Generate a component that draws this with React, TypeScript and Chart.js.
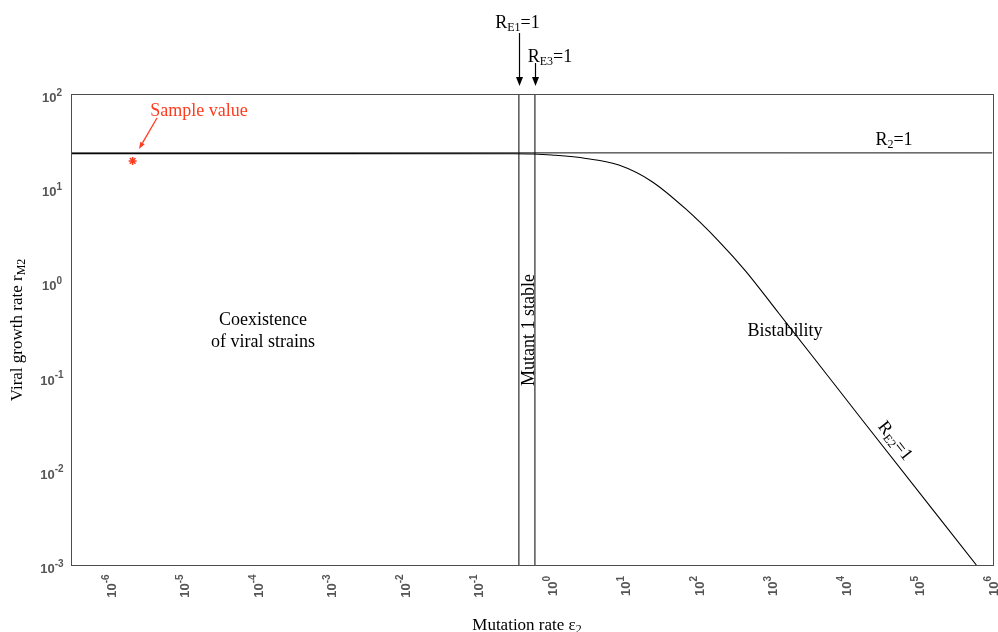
import React, { useEffect, useRef } from "react";
import { Chart, registerables } from "chart.js";
Chart.register(...registerables);

// ---- data ----
const curveX = [2.9e-7, 1e-3, 0.3, 0.575, 1.01, 2.93, 8.24, 23.1, 67.0, 188, 438, 1230, 3450, 16500, 603000];
const curveY = [23.3, 23.3, 23.25, 23.1, 22.5, 20.7, 17.6, 11.8, 6.02, 2.75, 1.32, 0.473, 0.1696, 0.0355, 0.001];
const r2Value = 23.7;
const re1X = 0.36;
const re3X = 0.595;
const sampleX = 2.0e-6;
const sampleY = 19.5;
const xMin = 2.9e-7;
const xMax = 1e6;
const yMin = 1e-3;
const yMax = 100;
const xTickExps = [-6, -5, -4, -3, -2, -1, 0, 1, 2, 3, 4, 5, 6];
const yTickExps = [-3, -2, -1, 0, 1, 2];

const SERIF = "'Liberation Serif', 'Times New Roman', serif";
const SANS = "'Liberation Sans', Arial, sans-serif";
const RED = "#ff3b1f";

type Part = { t: string; sub?: boolean };

function partsWidth(ctx: CanvasRenderingContext2D, parts: Part[], size: number, subSize: number) {
  let w = 0;
  for (const p of parts) {
    ctx.font = `${p.sub ? subSize : size}px ${SERIF}`;
    w += ctx.measureText(p.t).width;
  }
  return w;
}

function drawParts(ctx: CanvasRenderingContext2D, parts: Part[], x: number, y: number, size: number, subSize: number, color: string, subDrop = 3) {
  const total = partsWidth(ctx, parts, size, subSize);
  let cx = x - total / 2;
  ctx.fillStyle = color;
  ctx.textAlign = "left";
  ctx.textBaseline = "alphabetic";
  for (const p of parts) {
    ctx.font = `${p.sub ? subSize : size}px ${SERIF}`;
    ctx.fillText(p.t, cx, y + (p.sub ? subDrop : 0));
    cx += ctx.measureText(p.t).width;
  }
}

function arrow(ctx: CanvasRenderingContext2D, x1: number, y1: number, x2: number, y2: number, color: string, hl: number, hw: number, lw = 1.2) {
  const a = Math.atan2(y2 - y1, x2 - x1);
  const bx = x2 - hl * Math.cos(a);
  const by = y2 - hl * Math.sin(a);
  ctx.strokeStyle = color;
  ctx.fillStyle = color;
  ctx.lineWidth = lw;
  ctx.beginPath();
  ctx.moveTo(x1, y1);
  ctx.lineTo(bx, by);
  ctx.stroke();
  ctx.beginPath();
  ctx.moveTo(x2, y2);
  ctx.lineTo(bx + (hw / 2) * Math.sin(a), by - (hw / 2) * Math.cos(a));
  ctx.lineTo(bx - (hw / 2) * Math.sin(a), by + (hw / 2) * Math.cos(a));
  ctx.closePath();
  ctx.fill();
}

function powLabel(ctx: CanvasRenderingContext2D, exp: number) {
  const es = exp < 0 ? "-" + Math.abs(exp) : String(exp);
  ctx.font = `bold 13px ${SANS}`;
  const w10 = ctx.measureText("10").width;
  ctx.font = `bold 10px ${SANS}`;
  const we = ctx.measureText(es).width;
  return { es, w10, we, total: w10 + we };
}

const decor = {
  id: "decor",
  afterDraw(chart: any) {
    const ctx: CanvasRenderingContext2D = chart.ctx;
    const { left, right, top, bottom } = chart.chartArea;
    const xs = chart.scales.x;
    const ys = chart.scales.y;
    ctx.save();
    // frame
    ctx.strokeStyle = "#4d4d4d";
    ctx.lineWidth = 1;
    ctx.strokeRect(Math.round(left) + 0.5, Math.round(top) + 0.5, Math.round(right - left), Math.round(bottom - top));

    // tick labels
    ctx.fillStyle = "#555";
    ctx.textAlign = "left";
    ctx.textBaseline = "alphabetic";
    for (const e of yTickExps) {
      const py = ys.getPixelForValue(Math.pow(10, e));
      const L = powLabel(ctx, e);
      const sx = 52 - L.total / 2;
      ctx.font = `bold 13px ${SANS}`;
      ctx.fillText("10", sx, py + 8);
      ctx.font = `bold 10px ${SANS}`;
      ctx.fillText(L.es, sx + L.w10, py + 1.5);
    }
    for (const e of xTickExps) {
      const px = xs.getPixelForValue(Math.pow(10, e));
      const L = powLabel(ctx, e);
      ctx.save();
      ctx.translate(px, 586);
      ctx.rotate(-Math.PI / 2);
      const sx = -L.total / 2;
      ctx.font = `bold 13px ${SANS}`;
      ctx.fillText("10", sx, 5.1);
      ctx.font = `bold 10px ${SANS}`;
      ctx.fillText(L.es, sx + L.w10, -1.4);
      ctx.restore();
    }

    // axis titles
    drawParts(ctx, [{ t: "Mutation rate \u03b5" }, { t: "2", sub: true }], 527, 630, 17, 12, "#000", 3);
    ctx.save();
    ctx.translate(22, 330);
    ctx.rotate(-Math.PI / 2);
    drawParts(ctx, [{ t: "Viral growth rate r" }, { t: "M2", sub: true }], 0, 0, 17, 12, "#000", 3);
    ctx.restore();

    // region labels
    drawParts(ctx, [{ t: "Coexistence" }], 263, 325, 18, 12, "#000");
    drawParts(ctx, [{ t: "of viral strains" }], 263, 347, 18, 12, "#000");
    drawParts(ctx, [{ t: "Bistability" }], 785, 336, 18, 12, "#000");
    ctx.save();
    ctx.translate(534, 330);
    ctx.rotate(-Math.PI / 2);
    drawParts(ctx, [{ t: "Mutant 1 stable" }], 0, 0, 18, 12, "#000");
    ctx.restore();

    // curve labels
    drawParts(ctx, [{ t: "R" }, { t: "2", sub: true }, { t: "=1" }], 894, 145, 18, 12, "#000");
    ctx.save();
    ctx.translate(895, 441);
    ctx.rotate((51.8 * Math.PI) / 180);
    drawParts(ctx, [{ t: "R" }, { t: "E2", sub: true }, { t: "=1" }], 0, 5, 18, 12, "#000");
    ctx.restore();

    // top arrows
    const x1 = xs.getPixelForValue(re1X);
    const x3 = xs.getPixelForValue(re3X);
    drawParts(ctx, [{ t: "R" }, { t: "E1", sub: true }, { t: "=1" }], 517.5, 28, 18, 12, "#000");
    drawParts(ctx, [{ t: "R" }, { t: "E3", sub: true }, { t: "=1" }], 550, 62, 18, 12, "#000");
    arrow(ctx, Math.round(x1) + 0.5, 33, Math.round(x1) + 0.5, 86, "#000", 9, 7, 1.2);
    arrow(ctx, Math.round(x3) + 0.5, 63, Math.round(x3) + 0.5, 86, "#000", 9, 7, 1.2);

    // sample annotation
    drawParts(ctx, [{ t: "Sample value" }], 199, 116, 18, 12, RED);
    arrow(ctx, 157, 118, 139, 149, RED, 7, 5, 1.3);
    ctx.restore();
  },
};

export default function App() {
  const ref = useRef<HTMLCanvasElement | null>(null);
  useEffect(() => {
    if (!ref.current) return;
    const chart = new Chart(ref.current, {
      type: "line",
      data: {
        datasets: [
          {
            label: "R2=1",
            data: [
              { x: xMin, y: r2Value },
              { x: xMax, y: r2Value },
            ],
            borderColor: "#111",
            borderWidth: 1,
            pointRadius: 0,
          },
          {
            label: "RE2=1",
            data: curveX.map((x, i) => ({ x, y: curveY[i] })),
            borderColor: "#000",
            borderWidth: 1.1,
            pointRadius: 0,
            cubicInterpolationMode: "monotone",
          },
          {
            label: "RE1=1",
            data: [
              { x: re1X, y: yMin },
              { x: re1X, y: yMax },
            ],
            borderColor: "#000",
            borderWidth: 1,
            pointRadius: 0,
          },
          {
            label: "RE3=1",
            data: [
              { x: re3X, y: yMin },
              { x: re3X, y: yMax },
            ],
            borderColor: "#000",
            borderWidth: 1,
            pointRadius: 0,
          },
          {
            label: "Sample",
            data: [{ x: sampleX, y: sampleY }],
            showLine: false,
            pointStyle: "star",
            pointRadius: 4,
            borderColor: RED,
            backgroundColor: RED,
            borderWidth: 1.5,
          },
        ],
      } as any,
      options: {
        responsive: false,
        devicePixelRatio: 1,
        animation: false,
        layout: { padding: { top: 94, right: 4, left: 0, bottom: 0 } },
        plugins: { legend: { display: false }, tooltip: { enabled: false } },
        scales: {
          x: {
            type: "logarithmic",
            min: xMin,
            max: xMax,
            ticks: { display: false },
            grid: { display: false },
            border: { display: false },
            afterFit: (s: any) => {
              s.height = 67;
            },
          },
          y: {
            type: "logarithmic",
            min: yMin,
            max: yMax,
            ticks: { display: false },
            grid: { display: false },
            border: { display: false },
            afterFit: (s: any) => {
              s.width = 71;
            },
          },
        },
      } as any,
      plugins: [decor],
    });
    return () => chart.destroy();
  }, []);
  return (
    <div style={{ position: "absolute", left: 0, top: 0, width: 998, height: 632, background: "#fff" }}>
      <canvas ref={ref} width={998} height={632} />
    </div>
  );
}
